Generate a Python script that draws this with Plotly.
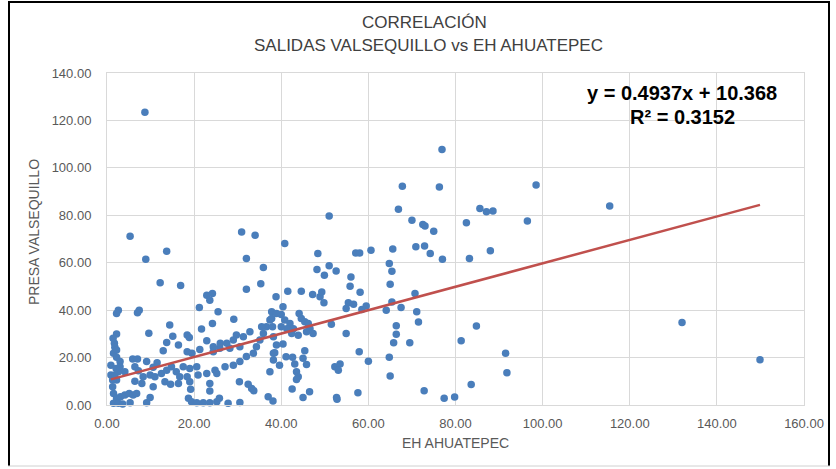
import plotly.graph_objects as go

# ---- data ----
eh_ahuatepec = [
    5.3, 13.7, 8.9, 12.2, 16.9, 30.9, 34.0, 32.0, 35.9, 35.3, 32.0, 38.8, 22.9, 24.2, 23.6, 21.2, 25.5,
    2.6, 2.2, 7.4, 7.0, 14.4, 21.7, 24.2, 29.1, 2.2, 9.6, 15.1, 18.4, 18.9, 22.9, 13.7, 16.4, 12.9, 18.4,
    19.5, 1.7, 1.8, 1.5, 2.2, 0.9, 5.9, 7.0, 9.1, 6.4, 7.2, 3.0, 2.6, 2.2, 10.6, 11.5, 12.5, 13.7, 14.8,
    15.9, 17.5, 19.0, 20.6, 16.7, 18.4, 20.9, 22.9, 24.8, 27.1, 29.0, 30.5, 32.0, 33.6, 30.5, 28.2, 25.9,
    24.4, 21.3, 6.4, 8.0, 10.6, 13.3, 14.6, 19.0, 19.2, 23.6, 23.6, 25.2, 30.4, 32.4, 33.2, 33.7, 37.0,
    38.1, 1.5, 2.2, 3.1, 4.1, 5.1, 6.0, 6.8, 1.5, 2.6, 3.6, 5.3, 9.1, 9.9, 18.7, 19.4, 20.6, 22.1, 23.6,
    25.2, 25.8, 27.8, 30.5, 1.3, 1.3, 0.9, 1.8, 2.1, 3.0, 4.1, 2.2, 1.4, 34.3, 35.1, 35.9, 36.6, 37.4,
    35.5, 37.8, 32.8, 31.3, 29.7, 29.0, 27.5, 26.0, 24.4, 38.2, 37.4, 38.2, 8.3, 9.9, 16.4, 11.0, 8.7,
    67.8, 76.3, 51.0, 66.9, 70.0, 72.5, 73.0, 75.0, 40.8, 48.4, 57.1, 58.0, 60.6, 65.6, 70.9, 72.9, 74.2,
    77.0, 64.8, 65.4, 48.2, 51.0, 52.6, 49.9, 56.0, 55.8, 58.1, 65.0, 41.5, 44.6, 47.2, 48.9, 49.3, 49.8,
    55.4, 56.6, 54.9, 59.5, 58.5, 65.4, 64.1, 67.5, 70.7, 71.1, 71.5, 66.4, 66.4, 65.8, 69.5, 64.8, 65.0,
    72.8, 77.4, 51.5, 54.9, 57.9, 60.0, 52.3, 53.5, 53.1, 57.6, 52.7, 52.8, 40.4, 40.0, 38.9, 40.4, 38.5,
    41.1, 42.6, 39.6, 43.1, 43.5, 43.9, 43.5, 45.0, 45.4, 45.8, 42.5, 45.0, 46.5, 38.9, 40.8, 42.0, 41.3,
    42.8, 44.1, 44.6, 45.4, 46.2, 46.6, 45.8, 47.3, 43.9, 42.4, 40.0, 38.0, 38.2, 37.8,
    76.9, 98.5, 85.6, 87.1, 88.6, 82.5, 96.5, 115.4, 83.2, 88.0, 84.8, 81.3, 91.5, 91.8, 83.6, 79.8,
    132.0, 149.9,
]
presa_valsequillo = [
    71.2, 64.8, 61.5, 51.5, 50.4, 73.0, 71.6, 61.8, 58.0, 51.1, 48.8, 45.6, 46.3, 47.0, 44.2, 41.1, 39.3,
    40.0, 38.6, 40.0, 38.9, 33.7, 32.1, 34.4, 36.2, 29.9, 30.3, 29.0, 29.5, 28.5, 27.1, 26.4, 25.3, 22.9, 22.5,
    21.8, 26.0, 24.3, 21.8, 20.1, 16.8, 19.4, 19.4, 18.3, 16.1, 14.4, 18.3, 14.0, 10.5, 15.9, 17.8, 13.3, 14.7, 16.1,
    14.0, 16.1, 15.4, 16.1, 11.9, 11.9, 12.6, 13.3, 14.7, 16.1, 16.8, 18.3, 20.4, 21.8, 24.6, 23.9, 23.9,
    22.5, 23.4, 10.0, 9.1, 7.7, 9.8, 8.8, 9.8, 6.6, 9.1, 5.9, 13.3, 9.8, 8.8, 7.0, 6.0, 3.5,
    1.7, 4.9, 2.8, 3.5, 4.2, 4.9, 4.2, 4.9, 0.7, 0.7, 0.4, 1.0, 1.0, 3.2, 2.8, 1.4, 1.0, 1.0, 1.0,
    1.4, 2.8, 0.7, 1.1, 7.7, 10.5, 12.6, 12.6, 15.4, 16.1, 14.0, 23.2, 28.1, 24.6, 27.4, 30.2, 33.0, 35.8,
    33.0, 39.3, 30.9, 28.8, 29.5, 27.4, 26.0, 26.0, 24.6, 19.0, 14.0, 21.8, 11.9, 12.6, 9.1, 11.9, 123.4,
    92.2, 91.9, 79.7, 82.5, 77.9, 76.1, 75.5, 73.3, 68.1, 63.9, 64.1, 64.1, 65.3, 65.8, 66.7, 67.1, 63.9,
    61.5, 59.7, 56.4, 57.1, 58.7, 56.5, 54.7, 54.0, 50.1, 47.5, 50.9, 48.0, 48.0, 46.6, 45.6, 47.6, 43.1,
    43.1, 42.5, 40.7, 41.7, 40.3, 43.4, 40.0, 41.1, 47.0, 39.3, 35.0, 33.4, 29.8, 26.2, 26.2, 20.1, 12.2,
    6.0, 2.8, 34.1, 30.2, 22.5, 18.5, 16.1, 17.3, 14.7, 5.2, 3.2, 2.4, 41.4, 38.2, 25.3, 25.7, 22.0,
    20.3, 20.1, 16.8, 17.3, 14.0, 11.9, 10.8, 19.7, 22.9, 17.1, 6.7, 3.2, 5.6, 38.6, 35.8, 34.4, 32.2,
    32.2, 38.6, 36.5, 35.1, 34.4, 32.2, 30.9, 30.2, 29.4, 30.2, 33.0, 33.0, 28.8, 36.5,
    107.7, 92.8, 82.9, 81.5, 81.8, 76.9, 77.6, 83.9, 61.8, 65.0, 33.3, 27.1, 21.8, 13.6, 8.6, 3.4,
    34.8, 19.1,
]
trend_slope = 0.4937
trend_intercept = 10.368
title_lines = ["CORRELACIÓN", "SALIDAS VALSEQUILLO vs EH AHUATEPEC"]
equation_lines = ["y = 0.4937x + 10.368", "R² = 0.3152"]
x_title = "EH AHUATEPEC"
y_title = "PRESA VALSEQUILLO"
x_ticks = [0, 20, 40, 60, 80, 100, 120, 140, 160]
y_ticks = [0, 20, 40, 60, 80, 100, 120, 140]

# ---- layout geometry (pixels) ----
W, H = 836, 469
L, R, T, B = 107, 804, 73, 405
pw, ph = R - L, B - T


def px(xp):
    return (xp - L) / pw


def py(yp):
    return (B - yp) / ph


FONT = "Liberation Sans, Arial, sans-serif"
TXT = "#595959"
TITLE = "#404040"
GRID = "#d9d9d9"

fig = go.Figure()
fig.add_trace(go.Scatter(
    x=eh_ahuatepec, y=presa_valsequillo, mode="markers",
    marker=dict(color="#4A7EBB", size=7.5, line=dict(width=0)),
    cliponaxis=False, showlegend=False, hoverinfo="x+y",
))
x_lo, x_hi = min(eh_ahuatepec), max(eh_ahuatepec)
fig.add_trace(go.Scatter(
    x=[x_lo, x_hi], y=[trend_slope * x_lo + trend_intercept, trend_slope * x_hi + trend_intercept],
    mode="lines", line=dict(color="#C0504D", width=2.5), showlegend=False, hoverinfo="skip",
))

axis_common = dict(
    showgrid=True, gridcolor=GRID, gridwidth=1, zeroline=False,
    showline=True, linecolor=GRID, linewidth=1, mirror=True,
    tickformat=".2f", ticks="", tickfont=dict(family=FONT, size=13, color=TXT),
)
fig.update_xaxes(range=[x_ticks[0], x_ticks[-1]], tickvals=x_ticks, ticklabelstandoff=6, **axis_common)
fig.update_yaxes(range=[y_ticks[0], y_ticks[-1]], tickvals=y_ticks, ticklabelstandoff=12, **axis_common)

ann = []
ann.append(dict(text=title_lines[0], x=px(424), y=py(22), xref="paper", yref="paper", showarrow=False,
                xanchor="center", yanchor="middle", font=dict(family=FONT, size=17, color=TITLE)))
ann.append(dict(text=title_lines[1], x=px(428), y=py(45), xref="paper", yref="paper", showarrow=False,
                xanchor="center", yanchor="middle", font=dict(family=FONT, size=17, color=TITLE)))
ann.append(dict(text="<b>" + equation_lines[0] + "</b>", x=px(682), y=py(93), xref="paper", yref="paper",
                showarrow=False, xanchor="center", yanchor="middle", font=dict(family=FONT, size=20, color="#000000")))
ann.append(dict(text="<b>" + equation_lines[1] + "</b>", x=px(682), y=py(117), xref="paper", yref="paper",
                showarrow=False, xanchor="center", yanchor="middle", font=dict(family=FONT, size=20, color="#000000")))
ann.append(dict(text=x_title, x=px(455), y=py(443), xref="paper", yref="paper", showarrow=False,
                xanchor="center", yanchor="middle", font=dict(family=FONT, size=14, color=TXT)))
ann.append(dict(text=y_title, x=px(34), y=py(232), xref="paper", yref="paper", showarrow=False, textangle=-90,
                xanchor="center", yanchor="middle", font=dict(family=FONT, size=14, color=TXT)))

shapes = [
    dict(type="line", xref="paper", yref="paper", x0=px(9), x1=px(9), y0=py(2), y1=py(466), line=dict(color="#000", width=2)),
    dict(type="line", xref="paper", yref="paper", x0=px(8), x1=px(830), y0=py(2), y1=py(2), line=dict(color="#000", width=2)),
    dict(type="line", xref="paper", yref="paper", x0=px(829), x1=px(829), y0=py(2), y1=py(466), line=dict(color="#000", width=2)),
    dict(type="line", xref="paper", yref="paper", x0=px(8), x1=px(830), y0=py(466), y1=py(466), line=dict(color="#d0d0d0", width=1)),
]

fig.update_layout(
    width=W, height=H, margin=dict(l=L, r=W - R, t=T, b=H - B),
    paper_bgcolor="white", plot_bgcolor="white",
    annotations=ann, shapes=shapes, showlegend=False,
)
fig.write_html("out.html", config={"displayModeBar": False},
               post_script="document.body.style.margin='0px';document.body.style.padding='0px';")
